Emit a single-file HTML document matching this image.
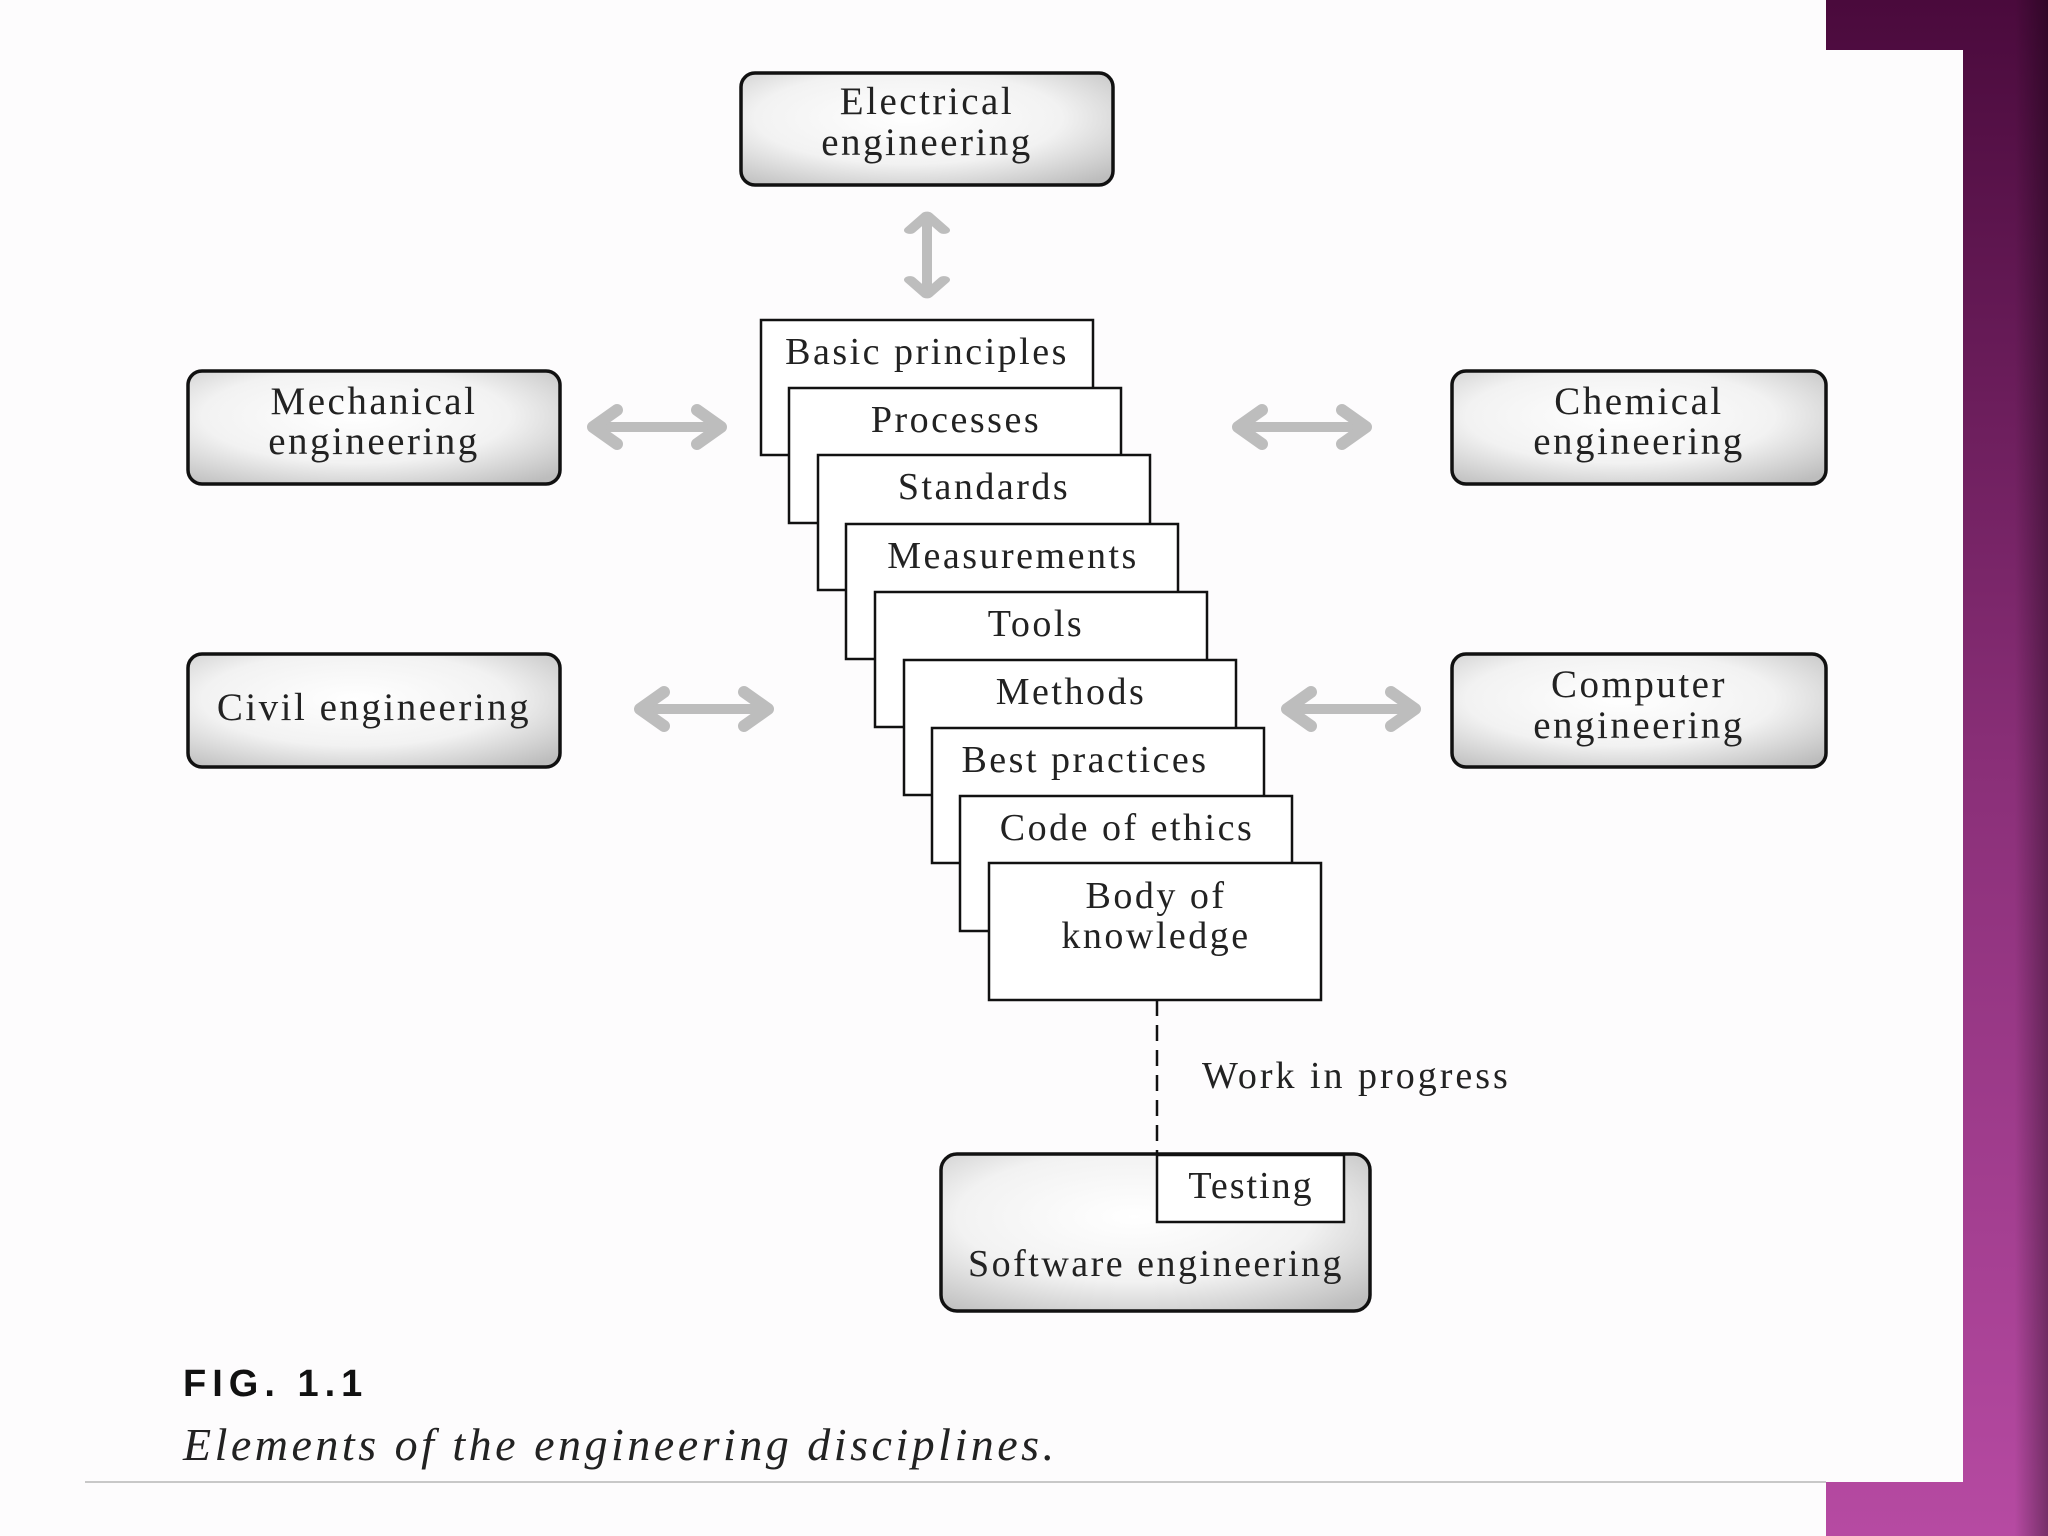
<!DOCTYPE html>
<html><head><meta charset="utf-8"><style>
html,body{margin:0;padding:0;background:#fff}
svg{display:block}
</style></head><body>
<svg width="2048" height="1536" viewBox="0 0 2048 1536" xmlns="http://www.w3.org/2000/svg">
<defs>
<linearGradient id="pur" x1="0" y1="0" x2="0" y2="1">
<stop offset="0" stop-color="#4a0a3c"/><stop offset="0.5" stop-color="#8a2f78"/><stop offset="1" stop-color="#b64aa2"/>
</linearGradient>
<linearGradient id="purx" x1="0" y1="0" x2="1" y2="0">
<stop offset="0" stop-color="#000" stop-opacity="0"/><stop offset="0.85" stop-color="#000" stop-opacity="0"/><stop offset="1" stop-color="#000" stop-opacity="0.35"/>
</linearGradient>
<radialGradient id="box" cx="0.45" cy="0.4" r="0.75">
<stop offset="0" stop-color="#ffffff"/><stop offset="0.55" stop-color="#f2f2f2"/><stop offset="1" stop-color="#bdbdbd"/>
</radialGradient>
<g id="harr"><path d="M-62,0 L62,0" stroke="#bdbdbd" stroke-width="10"/><path d="M-40,-17 L-64,0 L-40,17 M40,-17 L64,0 L40,17" stroke="#bdbdbd" stroke-width="12" fill="none" stroke-linejoin="round" stroke-linecap="round"/></g>
</defs>
<rect x="0" y="0" width="2048" height="1536" fill="#fdfcfd"/>
<rect x="1826" y="0" width="222" height="1536" fill="url(#pur)"/>
<rect x="1826" y="0" width="222" height="1536" fill="url(#purx)"/>
<rect x="0" y="50" width="1963" height="1432" fill="#fdfcfd"/>
<rect x="0" y="0" width="1826" height="50" fill="#fdfcfd"/>
<rect x="85" y="1481" width="1741" height="2" fill="#c8c8c8"/>
<g font-family="'Liberation Serif',serif" fill="#222" text-anchor="middle">
<g font-size="39" letter-spacing="2.5">
<rect x="741" y="73" width="372" height="112" rx="14" fill="url(#box)" stroke="#111" stroke-width="3.5"/>
<text x="927" y="114">Electrical</text><text x="927" y="155">engineering</text>
<rect x="188" y="371" width="372" height="113" rx="14" fill="url(#box)" stroke="#111" stroke-width="3.5"/>
<text x="374" y="414">Mechanical</text><text x="374" y="454">engineering</text>
<rect x="1452" y="371" width="374" height="113" rx="14" fill="url(#box)" stroke="#111" stroke-width="3.5"/>
<text x="1639" y="414">Chemical</text><text x="1639" y="454">engineering</text>
<rect x="188" y="654" width="372" height="113" rx="14" fill="url(#box)" stroke="#111" stroke-width="3.5"/>
<text x="374" y="720">Civil engineering</text>
<rect x="1452" y="654" width="374" height="113" rx="14" fill="url(#box)" stroke="#111" stroke-width="3.5"/>
<text x="1639" y="697">Computer</text><text x="1639" y="738">engineering</text>
</g>
<use href="#harr" x="657" y="427"/>
<use href="#harr" x="1302" y="427"/>
<use href="#harr" x="704" y="709"/>
<use href="#harr" x="1351" y="709"/>
<g transform="translate(927,255) rotate(90) scale(0.62,1)"><use href="#harr"/></g>
<g stroke="#111" stroke-width="2.5" fill="#fff">
<rect x="761" y="320" width="332" height="135"/>
<rect x="789" y="388" width="332" height="135"/>
<rect x="818" y="455" width="332" height="135"/>
<rect x="846" y="524" width="332" height="135"/>
<rect x="875" y="592" width="332" height="135"/>
<rect x="904" y="660" width="332" height="135"/>
<rect x="932" y="728" width="332" height="135"/>
<rect x="960" y="796" width="332" height="135"/>
<rect x="989" y="863" width="332" height="137"/>
</g>
<g font-size="38" letter-spacing="2.5">
<text x="927" y="364">Basic principles</text>
<text x="956" y="432">Processes</text>
<text x="984" y="499">Standards</text>
<text x="1013" y="568">Measurements</text>
<text x="1036" y="636">Tools</text>
<text x="1071" y="704">Methods</text>
<text x="1085" y="772">Best practices</text>
<text x="1127" y="840">Code of ethics</text>
<text x="1156" y="908">Body of</text>
<text x="1156" y="948">knowledge</text>
</g>
<path d="M1157,1000 L1157,1154" stroke="#111" stroke-width="2.5" stroke-dasharray="16,9"/>
<text x="1202" y="1088" font-size="38" letter-spacing="3" text-anchor="start">Work in progress</text>
<rect x="941" y="1154" width="429" height="157" rx="16" fill="url(#box)" stroke="#111" stroke-width="3.5"/>
<rect x="1157" y="1155" width="187" height="67" fill="#fff" stroke="#111" stroke-width="2.5"/>
<text x="1251" y="1198" font-size="38" letter-spacing="2">Testing</text>
<text x="1156" y="1276" font-size="38" letter-spacing="2.5">Software engineering</text>
</g>
<text x="183" y="1396" font-family="'Liberation Sans',sans-serif" font-weight="bold" font-size="38" letter-spacing="6" fill="#111">FIG. 1.1</text>
<text x="183" y="1460" font-family="'Liberation Serif',serif" font-style="italic" font-size="46" letter-spacing="3.5" fill="#222">Elements of the engineering disciplines.</text>
</svg>
</body></html>
